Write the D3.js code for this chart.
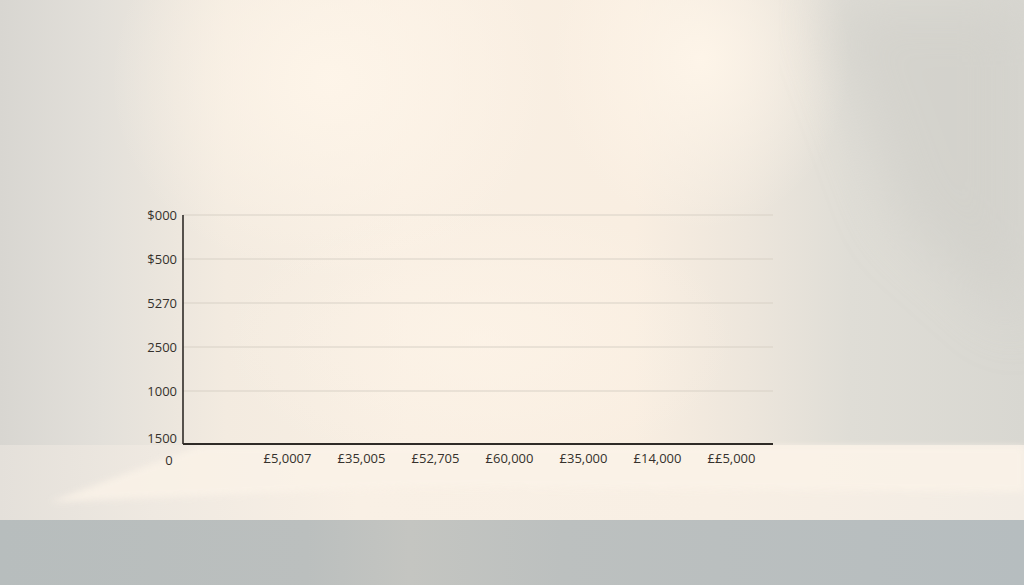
<!DOCTYPE html>
<html>
<head>
<meta charset="utf-8">
<script src="https://cdn.jsdelivr.net/npm/d3@7"></script>
<style>
  html, body { margin: 0; padding: 0; background: #ece7df; }
  svg { display: block; }
  .tick text { font-family: "Open Sans", "Noto Sans", sans-serif; font-size: 13px; fill: #35312c; }
</style>
</head>
<body>
<div id="chart"></div>
<script>
// labels as printed in the picture (no series is drawn)
const yLabels = ['1500', '1000', '2500', '5270', '$500', '$000'];
const xLabels = ['£5,0007', '£35,005', '£52,705', '£60,000', '£35,000', '£14,000', '££5,000'];
const originLabel = '0';

const W = 1024, H = 585;
const plot = { left: 183, right: 773, top: 215, base: 444 };

const svg = d3.select('#chart').append('svg')
  .attr('width', W)
  .attr('height', H);

const defs = svg.append('defs');

// --- backdrop: soft lit wall + floor ---
const wall = defs.append('linearGradient').attr('id', 'wall');
[[0, '#d8d6d1'], [0.1, '#e3e0da'], [0.22, '#f3ebe0'], [0.4, '#f9efe3'], [0.62, '#f9eee1'],
 [0.73, '#ede6dc'], [0.83, '#dfddd6'], [1, '#d8d7d1']]
  .forEach(([o, c]) => wall.append('stop').attr('offset', o).attr('stop-color', c));

const glow = defs.append('radialGradient').attr('id', 'glow');
glow.append('stop').attr('offset', 0).attr('stop-color', '#fef5e9').attr('stop-opacity', 0.95);
glow.append('stop').attr('offset', 1).attr('stop-color', '#fef5e9').attr('stop-opacity', 0);

const floor = defs.append('linearGradient').attr('id', 'floor');
[[0, '#e4e0da'], [0.15, '#efe9e1'], [0.35, '#f9f0e5'], [0.7, '#f8efe4'], [1, '#f2ece4']]
  .forEach(([o, c]) => floor.append('stop').attr('offset', o).attr('stop-color', c));

const ground = defs.append('linearGradient').attr('id', 'ground');
[[0, '#b7bdbd'], [0.3, '#bbbfbe'], [0.4, '#c4c5c1'], [0.55, '#bcc0bf'], [1, '#b6bdbf']]
  .forEach(([o, c]) => ground.append('stop').attr('offset', o).attr('stop-color', c));

defs.append('filter').attr('id', 'blur').attr('x', '-20%').attr('y', '-20%').attr('width', '140%').attr('height', '140%')
  .append('feGaussianBlur').attr('stdDeviation', 28);
defs.append('filter').attr('id', 'blurS')
  .append('feGaussianBlur').attr('stdDeviation', 3);

const bg = svg.append('g');
bg.append('rect').attr('width', W).attr('height', H).attr('fill', 'url(#wall)');
bg.append('ellipse').attr('cx', 330).attr('cy', 80).attr('rx', 220).attr('ry', 200).attr('fill', 'url(#glow)');
bg.append('ellipse').attr('cx', 700).attr('cy', 60).attr('rx', 150).attr('ry', 170).attr('fill', 'url(#glow)');
bg.append('ellipse').attr('cx', 480).attr('cy', 340).attr('rx', 260).attr('ry', 140).attr('fill', 'url(#glow)').attr('opacity', 0.6);
// darker diagonal shade in the upper right
bg.append('path')
  .attr('d', 'M820,0 L1024,0 L1024,330 L900,220 Z')
  .attr('fill', '#cfcec8').attr('opacity', 0.6).attr('filter', 'url(#blur)');
// floor band
bg.append('rect').attr('x', 0).attr('y', 445).attr('width', W).attr('height', 76).attr('fill', 'url(#floor)');
bg.append('path')
  .attr('d', 'M50,502 L200,446 L1024,446 L1024,492 L420,487 Z')
  .attr('fill', '#fbf3e8').attr('opacity', 0.8).attr('filter', 'url(#blurS)');
bg.append('rect').attr('x', 0).attr('y', 520).attr('width', W).attr('height', H - 520).attr('fill', 'url(#ground)');

// --- scales ---
const x = d3.scalePoint().domain(xLabels).range([287, 731]);
const y = d3.scaleLinear().domain([0, yLabels.length - 1]).range([435, plot.top]);

const g = svg.append('g');

// gridlines
g.append('g')
  .selectAll('line')
  .data(d3.range(1, yLabels.length))
  .join('line')
  .attr('x1', plot.left).attr('x2', plot.right)
  .attr('y1', d => y(d)).attr('y2', d => y(d))
  .attr('stroke', '#d8d1c6')
  .attr('stroke-width', 1);

// y axis labels
const yAxis = g.append('g')
  .attr('transform', `translate(${plot.left},0)`)
  .call(d3.axisLeft(y).tickValues(d3.range(yLabels.length)).tickFormat(i => yLabels[i]).tickSize(0).tickPadding(6));
yAxis.select('.domain').remove();
yAxis.selectAll('.tick text').attr('dy', (d, i) => i === 0 ? '0.6em' : '0.36em');

g.append('line')
  .attr('x1', plot.left).attr('x2', plot.left)
  .attr('y1', plot.top).attr('y2', plot.base)
  .attr('stroke', '#2f2b27').attr('stroke-width', 1.6);

// x axis
const xAxis = g.append('g')
  .attr('transform', `translate(0,${plot.base})`)
  .call(d3.axisBottom(x).tickSize(0).tickPadding(10));
xAxis.select('.domain').remove();

g.append('line')
  .attr('x1', plot.left).attr('x2', plot.right)
  .attr('y1', plot.base).attr('y2', plot.base)
  .attr('stroke', '#2f2b27').attr('stroke-width', 2);

g.append('text')
  .attr('x', plot.left - 14).attr('y', plot.base + 17)
  .attr('dy', '0.32em')
  .attr('text-anchor', 'middle')
  .style('font-family', '"Open Sans", "Noto Sans", sans-serif')
  .style('font-size', '13px')
  .attr('fill', '#35312c')
  .text(originLabel);
</script>
</body>
</html>
